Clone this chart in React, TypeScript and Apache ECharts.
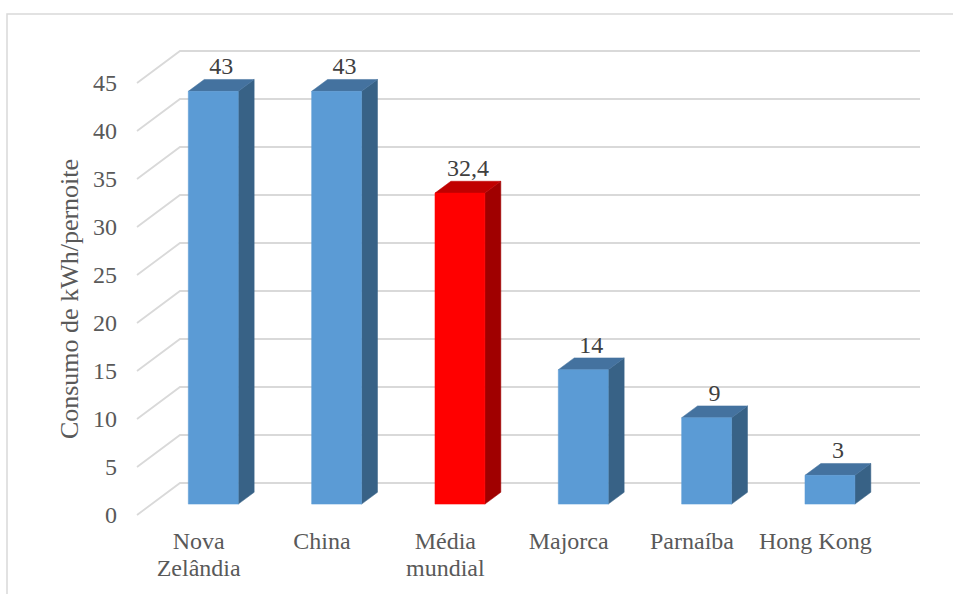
import React, { useEffect, useRef } from "react";
import * as echarts from "echarts";

const categories = ["Nova\nZelândia", "China", "Média\nmundial", "Majorca", "Parnaíba", "Hong Kong"];
const values = [43, 43, 32.4, 14, 9, 3];
const valueLabels = ["43", "43", "32,4", "14", "9", "3"];
const highlighted = [false, false, true, false, false, false];
const yTicks = [0, 5, 10, 15, 20, 25, 30, 35, 40, 45];

const FONT = "Liberation Serif";
const NUM_FONT = "Times New Roman";
const DEPTH_X = 43;
const DEPTH_Y = -32;
const BAR_FRONT = 0.34;
const BAR_BACK = 0.71;
const BAR_WIDTH_RATIO = 0.405;

export default function App() {
  const ref = useRef<HTMLDivElement>(null);
  useEffect(() => {
    if (!ref.current) return;
    const chart = echarts.init(ref.current, undefined, { renderer: "svg" });
    const option: any = {
      animation: false,
      grid: { left: 137, right: 76, top: 83, bottom: 79 },
      graphic: [
        {
          type: "rect",
          shape: { x: 7, y: 14, width: 980, height: 620 },
          style: { fill: "none", stroke: "#D9D9D9", lineWidth: 1.5 },
          silent: true,
        },
      ],
      xAxis: {
        type: "category",
        data: categories,
        axisLine: { show: false },
        axisTick: { show: false },
        splitLine: { show: false },
        axisLabel: {
          fontFamily: FONT,
          fontSize: 24,
          color: "#595959",
          lineHeight: 27,
          margin: 12,
          interval: 0,
        },
      },
      yAxis: {
        type: "value",
        min: 0,
        max: 45,
        interval: 5,
        axisLine: { show: false },
        axisTick: { show: false },
        splitLine: { show: false },
        axisLabel: {
          fontFamily: NUM_FONT,
          fontSize: 24,
          color: "#595959",
          margin: 20,
        },
        name: "Consumo de kWh/pernoite",
        nameLocation: "middle",
        nameGap: 55,
        nameTextStyle: { fontFamily: FONT, fontSize: 26, color: "#595959" },
      },
      series: [
        {
          type: "custom",
          z: 1,
          silent: true,
          data: yTicks.map((v) => [0, v]),
          renderItem: (params: any, api: any) => {
            const v = api.value(1);
            const p = api.coord([0, v]);
            const cs = params.coordSys;
            const x0 = cs.x;
            const x1 = cs.x + cs.width;
            return {
              type: "polyline",
              shape: {
                points: [
                  [x0, p[1]],
                  [x0 + DEPTH_X, p[1] + DEPTH_Y],
                  [x1 + DEPTH_X, p[1] + DEPTH_Y],
                ],
              },
              style: { stroke: "#D9D9D9", lineWidth: 1.8, fill: "none" },
            };
          },
        },
        {
          type: "custom",
          z: 2,
          data: values.map((v, i) => [i, v]),
          renderItem: (params: any, api: any) => {
            const i = api.value(0);
            const v = api.value(1);
            const base = api.coord([i, 0]);
            const top = api.coord([i, v]);
            const bw = api.size([1, 0])[0];
            const w = bw * BAR_WIDTH_RATIO;
            const fx = DEPTH_X * BAR_FRONT;
            const fy = DEPTH_Y * BAR_FRONT;
            const dx = DEPTH_X * (BAR_BACK - BAR_FRONT);
            const dy = DEPTH_Y * (BAR_BACK - BAR_FRONT);
            const xl = base[0] + fx - w / 2;
            const xr = base[0] + fx + w / 2;
            const yb = base[1] + fy;
            const yt = top[1] + fy;
            const red = highlighted[i];
            const cFront = red ? "#FF0000" : "#5B9BD5";
            const cSide = red ? "#A00000" : "#386286";
            const cTop = red ? "#C00000" : "#44729F";
            return {
              type: "group",
              children: [
                {
                  type: "polygon",
                  shape: { points: [[xr, yt], [xr + dx, yt + dy], [xr + dx, yb + dy], [xr, yb]] },
                  style: { fill: cSide, stroke: cSide, lineWidth: 0.5 },
                },
                {
                  type: "polygon",
                  shape: { points: [[xl, yt], [xr, yt], [xr + dx, yt + dy], [xl + dx, yt + dy]] },
                  style: { fill: cTop, stroke: cTop, lineWidth: 0.5 },
                },
                {
                  type: "rect",
                  shape: { x: xl, y: yt, width: w, height: yb - yt },
                  style: { fill: cFront, stroke: cFront, lineWidth: 0.5 },
                },
                {
                  type: "text",
                  x: (xl + xr + dx) / 2,
                  y: yt + dy - 1,
                  style: {
                    text: valueLabels[i],
                    align: "center",
                    verticalAlign: "bottom",
                    fill: "#404040",
                    fontFamily: NUM_FONT,
                    fontSize: 24,
                  },
                },
              ],
            };
          },
        },
      ],
    };
    chart.setOption(option);
    return () => chart.dispose();
  }, []);
  return <div ref={ref} style={{ position: "absolute", left: 0, top: 0, width: 953, height: 594 }} />;
}
